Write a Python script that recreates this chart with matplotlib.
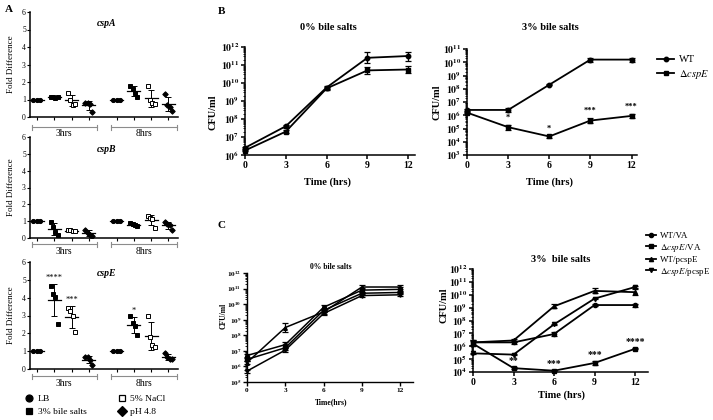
import numpy as np
import matplotlib
matplotlib.use("Agg")
import matplotlib.pyplot as plt
from matplotlib.lines import Line2D
from matplotlib.ticker import FixedLocator, FuncFormatter, LogLocator, NullFormatter

W, H = 713, 420
plt.rcParams["font.family"] = ["Liberation Serif", "DejaVu Serif"]
plt.rcParams["mathtext.fontset"] = "stix"

# ---------------- panel A: fold difference ----------------
conditions = ["LB", "3% bile salts", "5% NaCl", "pH 4.8"]
hours_a = ["3hrs", "8hrs"]

cspA_3h = [[1.0, 1.0, 1.0], [1.15, 1.12, 1.1, 1.13], [1.4, 0.95, 0.7, 0.75], [0.8, 0.8, 0.75, 0.3]]
cspA_8h = [[1.0, 1.0, 1.0], [1.77, 1.6, 1.4, 1.14], [1.77, 0.97, 0.8, 0.74], [1.3, 0.7, 0.6, 0.35]]
cspB_3h = [[1.0, 1.0, 1.0], [0.95, 0.65, 0.35, 0.15], [0.45, 0.48, 0.4, 0.42], [0.5, 0.3, 0.2, 0.1]]
cspB_8h = [[1.0, 1.0, 1.0], [0.9, 0.85, 0.75, 0.7], [1.3, 1.2, 1.15, 0.6], [0.95, 0.85, 0.8, 0.45]]
cspE_3h = [[1.0, 1.0, 1.0], [4.65, 4.2, 4.05, 2.55], [3.4, 3.25, 2.95, 2.05], [0.7, 0.65, 0.5, 0.25]]
cspE_8h = [[1.0, 1.0, 1.0], [3.0, 2.6, 2.4, 1.9], [3.0, 1.8, 1.35, 1.25], [0.9, 0.7, 0.55, 0.55]]
cspE_sig = ["", "****", "***", "", "", "*", "", ""]

# ---------------- panels B / C: growth curves (log10 CFU/ml) ----------------
times = [0, 3, 6, 9, 12]

b0_wt = [6.4, 7.6, 9.75, 11.4, 11.5]
b0_wt_err = [0.05, 0.08, 0.1, 0.3, 0.25]
b0_cspe = [6.25, 7.3, 9.7, 10.7, 10.75]
b0_cspe_err = [0.05, 0.1, 0.1, 0.2, 0.2]

b3_wt = [6.4, 6.4, 8.3, 10.2, 10.2]
b3_wt_err = [0.05, 0.15, 0.05, 0.15, 0.15]
b3_cspe = [6.2, 5.1, 4.4, 5.6, 5.95]
b3_cspe_err = [0.05, 0.2, 0.08, 0.2, 0.15]
b3_sig = ["", "*", "*", "***", "***"]

c0_wt_va = [6.7, 7.4, 9.8, 10.9, 10.95]
c0_cspe_va = [6.45, 7.2, 9.6, 10.7, 10.75]
c0_wt_p = [6.25, 8.5, 9.5, 11.1, 11.1]
c0_cspe_p = [5.7, 7.05, 9.4, 10.55, 10.6]
c0_err = [[0.1, 0.2, 0.15, 0.15, 0.15], [0.1, 0.15, 0.1, 0.1, 0.1],
          [0.1, 0.3, 0.15, 0.15, 0.15], [0.1, 0.15, 0.1, 0.1, 0.1]]

c3_wt_va = [6.3, 6.3, 6.95, 9.2, 9.2]
c3_cspe_va = [6.2, 4.3, 4.1, 4.7, 5.8]
c3_wt_p = [6.3, 6.45, 9.1, 10.3, 10.2]
c3_cspe_p = [5.45, 5.35, 7.7, 9.7, 10.6]
c3_err = [[0.2, 0.1, 0.12, 0.05, 0.12], [0.2, 0.05, 0.05, 0.15, 0.05],
          [0.2, 0.12, 0.15, 0.2, 0.25], [0.05, 0.05, 0.05, 0.05, 0.05]]
c3_sig = ["", "**", "***", "***", "****"]

fig = plt.figure(figsize=(W / 100, H / 100), dpi=100)


def box(l, t, r, b):
    return fig.add_axes([l / W, 1 - b / H, (r - l) / W, (b - t) / H])


def ftext(x, y, s, **kw):
    fig.text(x / W, 1 - y / H, s, **kw)


def clean(ax, lw=1.0):
    for s in ("top", "right"):
        ax.spines[s].set_visible(False)
    for s in ("left", "bottom"):
        ax.spines[s].set_linewidth(lw)


# ---- panel A ----
xpos_a = [1, 2, 3, 4, 5.6, 6.6, 7.6, 8.6]
mk_a = ["o", "s", "s", "D"]
fc_a = ["k", "k", "w", "k"]
ms_a = [3, 3, 3.2, 2.8]


def fold_panel(box_px, d3, d8, title, gap, sig=None):
    l, t, r, b = box_px
    ax = box(l, t, r, b)
    groups = d3 + d8
    for i, (x, pts) in enumerate(zip(xpos_a, groups)):
        k = i % 4
        pts = np.array(pts)
        off = np.linspace(-0.2, 0.2, len(pts))
        ax.plot(x + off, pts, ls="none", marker=mk_a[k], ms=ms_a[k], mfc=fc_a[k],
                mec="k", mew=0.7, zorder=3)
        m, sd = pts.mean(), pts.std(ddof=1)
        ax.plot([x - 0.38, x + 0.38], [m, m], color="k", lw=0.9)
        if sd > 0:
            ax.errorbar(x, m, yerr=sd, color="k", lw=0.7, capsize=2, capthick=0.7)
        if sig and sig[i]:
            ax.text(x, m + sd + 0.35, sig[i], ha="center", va="center", fontsize=6)
    ax.set_xlim(0.6, 9.15)
    ax.set_ylim(0, 6)
    ax.set_yticks(range(7))
    ax.set_xticks(xpos_a)
    ax.set_xticklabels([])
    ax.tick_params(labelsize=5.5, length=2, width=0.8, pad=1)
    clean(ax, 1.1)
    ax.set_ylabel("Fold Difference", fontsize=6.5, labelpad=2)
    ax.yaxis.set_label_coords((15 - l) / (r - l), 0.5)
    ftext(107, t + 12, title, fontsize=7, style="italic", fontweight="bold", ha="center", va="center")
    # time brackets
    hgt = b - t
    yb = -gap / hgt
    yt = -(gap + 2.5) / hgt
    tr = ax.get_xaxis_transform()
    for (x0, x1), lab in zip([(0.72, 4.45), (5.3, 9.1)], hours_a):
        ax.plot([x0, x1], [yb, yb], color="0.55", lw=0.8, transform=tr, clip_on=False)
        for xe in (x0, x1):
            ax.plot([xe, xe], [yb - 2.5 / hgt, yb + 2.5 / hgt], color="0.55", lw=0.8,
                    transform=tr, clip_on=False)
        ax.text((x0 + x1) / 2, yt, lab, transform=tr, ha="center", va="top", fontsize=7)
    return ax


fold_panel((30, 12, 178, 117), cspA_3h, cspA_8h, "cspA", 10)
fold_panel((30, 137, 178, 238), cspB_3h, cspB_8h, "cspB", 6)
fold_panel((30, 262, 178, 369), cspE_3h, cspE_8h, "cspE", 7, cspE_sig)

hA = [Line2D([], [], ls="none", marker=mk_a[k], ms=5, mfc=fc_a[k], mec="k", mew=0.9)
      for k in range(4)]
fig.legend(hA, conditions, ncol=2, loc="upper left", bbox_to_anchor=(20 / W, 1 - 390 / H),
           frameon=False, fontsize=6.8, handlelength=1.0, handletextpad=0.4,
           labelspacing=0.45, columnspacing=3.2, borderpad=0)


# ---- panels B and C ----
def log_axes(box_px, ylo, yhi, xmax, fs, lw=1.1):
    ax = box(*box_px)
    ax.set_yscale("log")
    ax.set_ylim(10.0 ** ylo, 10.0 ** yhi)
    ax.set_xlim(0, xmax)
    ax.set_xticks(times)
    ax.yaxis.set_major_locator(FixedLocator(10.0 ** np.arange(ylo, yhi + 1)))
    ax.yaxis.set_major_formatter(FuncFormatter(lambda v, p: r"$\mathbf{10^{%d}}$" % round(np.log10(v))))
    ax.yaxis.set_minor_locator(LogLocator(base=10, subs=np.arange(2, 10), numticks=30))
    ax.yaxis.set_minor_formatter(NullFormatter())
    ax.tick_params(which="major", labelsize=fs, length=3, width=lw, pad=1)
    ax.tick_params(which="minor", length=1.8, width=0.6)
    for lbl in ax.get_xticklabels():
        lbl.set_fontweight("bold")
    clean(ax, lw)
    return ax


def curve(ax, vals, errs, marker, ms, lw=1.3):
    v = np.array(vals)
    e = np.array(errs)
    y = 10.0 ** v
    lo = y - 10.0 ** (v - e)
    hi = 10.0 ** (v + e) - y
    ax.errorbar(times, y, yerr=[lo, hi], color="k", marker=marker, ms=ms, lw=lw,
                elinewidth=0.9, capsize=2.2, capthick=0.9, clip_on=False, zorder=3)


def stars(ax, vals, errs, labs, dy, fs):
    for t, v, e, s in zip(times, vals, errs, labs):
        if s:
            ax.annotate(s, (t, 10.0 ** (v + e)), xytext=(0, dy), textcoords="offset points",
                        ha="center", va="center", fontsize=fs, fontweight="bold")


ftext(5, 10, "A", fontsize=8, fontweight="bold", va="center")
ftext(218, 12, "B", fontsize=8, fontweight="bold", va="center")
ftext(217, 225, "C", fontsize=8, fontweight="bold", va="center")

# B left
ax = log_axes((245, 47, 415, 155), 6, 12, 12.5, 7)
curve(ax, b0_wt, b0_wt_err, "o", 3.2)
curve(ax, b0_cspe, b0_cspe_err, "s", 3.2)
ftext(328, 28, "0% bile salts", fontsize=7.5, fontweight="bold", ha="center", va="center")
ftext(328, 182, "Time (hrs)", fontsize=7.5, fontweight="bold", ha="center", va="center")
ftext(213, 112, "CFU/ml", fontsize=7.5, fontweight="bold", ha="center", va="center", rotation=90)

# B right
ax = log_axes((467, 49, 637, 155), 3, 11, 12.4, 7)
curve(ax, b3_wt, b3_wt_err, "o", 3.2)
curve(ax, b3_cspe, b3_cspe_err, "s", 3.2)
stars(ax, b3_cspe, b3_cspe_err, b3_sig, 5, 6)
ftext(550, 28, "3% bile salts", fontsize=7.5, fontweight="bold", ha="center", va="center")
ftext(549, 182, "Time (hrs)", fontsize=7.5, fontweight="bold", ha="center", va="center")
ftext(437, 102, "CFU/ml", fontsize=7.5, fontweight="bold", ha="center", va="center", rotation=90)

hB = [Line2D([], [], color="k", lw=1.3, marker=m, ms=3.2) for m in ("o", "s")]
fig.legend(hB, ["WT", r"$\Delta\mathit{cspE}$"], loc="upper left",
           bbox_to_anchor=(652 / W, 1 - 50 / H), frameon=False, fontsize=7.5,
           handlelength=1.6, handletextpad=0.5, labelspacing=0.35, borderpad=0)

# C left
c_marks = ["o", "s", "^", "v"]
ax = log_axes((247, 273, 413, 382), 5, 12, 13.0, 5.2, lw=1.0)
for vals, err, m in zip([c0_wt_va, c0_cspe_va, c0_wt_p, c0_cspe_p], c0_err, c_marks):
    curve(ax, vals, err, m, 2.6, lw=1.1)
ftext(331, 267, "0% bile salts", fontsize=5.5, fontweight="bold", ha="center", va="center")
ftext(331, 402, "Time(hrs)", fontsize=5.5, fontweight="bold", ha="center", va="center")
ftext(224, 316, "CFU/ml", fontsize=5.5, fontweight="bold", ha="center", va="center", rotation=90)

# C right
ax = log_axes((473, 269, 648, 372), 4, 12, 12.96, 7)
for vals, err, m in zip([c3_wt_va, c3_cspe_va, c3_wt_p, c3_cspe_p], c3_err, c_marks):
    curve(ax, vals, err, m, 3.0)
stars(ax, c3_cspe_va, c3_err[1], c3_sig, 5, 7)
ftext(561, 260, "3%  bile salts", fontsize=7.5, fontweight="bold", ha="center", va="center")
ftext(561, 395, "Time (hrs)", fontsize=7.5, fontweight="bold", ha="center", va="center")
ftext(444, 305, "CFU/ml", fontsize=7.5, fontweight="bold", ha="center", va="center", rotation=90)

hC = [Line2D([], [], color="k", lw=1.3, marker=m, ms=3.0) for m in c_marks]
fig.legend(hC, ["WT/VA", r"$\Delta\mathit{cspE}$/VA", "WT/pcspE", r"$\Delta\mathit{cspE}$/pcspE"],
           loc="upper left", bbox_to_anchor=(641 / W, 1 - 227 / H), frameon=False, fontsize=6.5,
           handlelength=1.2, handletextpad=0.4, labelspacing=0.2, borderpad=0)

fig.savefig("out.png", dpi=100)
